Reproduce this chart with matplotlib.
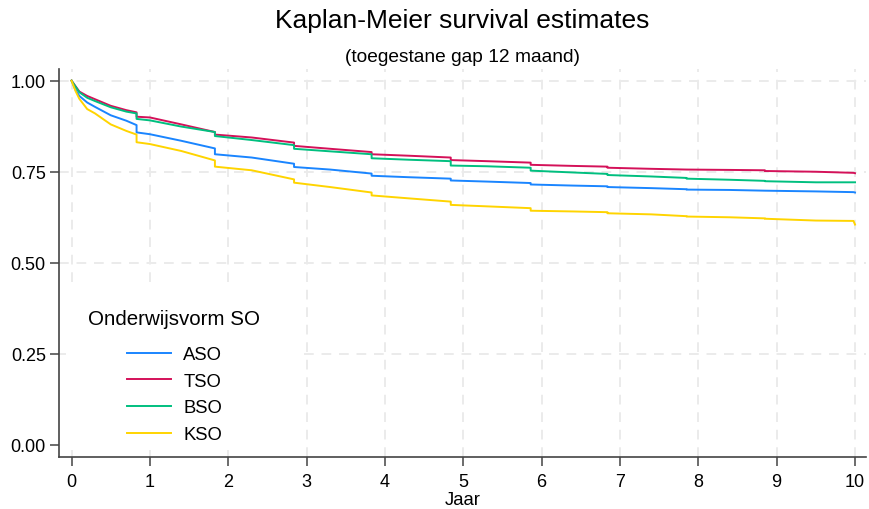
import matplotlib
matplotlib.use("Agg")
import matplotlib.pyplot as plt
from matplotlib.patches import Rectangle

plt.rcParams["font.family"] = ["Liberation Sans", "DejaVu Sans"]

# Kaplan-Meier estimates per education type (time in years)
years = [0, 0.05, 0.1, 0.2, 0.3, 0.5, 0.7, 0.83, 0.83, 1.0, 1.4, 1.83, 1.83,
         2.3, 2.84, 2.84, 3.3, 3.83, 3.83, 4.3, 4.84, 4.84, 5.3, 5.86, 5.86,
         6.4, 6.84, 6.84, 7.4, 7.85, 7.85, 8.4, 8.85, 8.85, 9.5, 9.98, 9.98, 10.0]

surv_aso = [1.0, 0.975, 0.958, 0.940, 0.928, 0.905, 0.890, 0.878, 0.858, 0.853,
            0.835, 0.814, 0.798, 0.789, 0.772, 0.763, 0.756, 0.745, 0.739, 0.735,
            0.731, 0.726, 0.723, 0.719, 0.715, 0.712, 0.710, 0.708, 0.705, 0.702,
            0.701, 0.700, 0.698, 0.698, 0.696, 0.694, 0.694, 0.693]

surv_tso = [1.0, 0.985, 0.970, 0.958, 0.949, 0.931, 0.919, 0.913, 0.901, 0.899,
            0.880, 0.859, 0.852, 0.844, 0.830, 0.821, 0.813, 0.804, 0.798, 0.794,
            0.789, 0.782, 0.779, 0.775, 0.769, 0.766, 0.764, 0.761, 0.758, 0.756,
            0.756, 0.755, 0.754, 0.752, 0.750, 0.747, 0.747, 0.746]

surv_bso = [1.0, 0.984, 0.968, 0.953, 0.944, 0.927, 0.915, 0.910, 0.895, 0.891,
            0.874, 0.859, 0.848, 0.837, 0.823, 0.813, 0.806, 0.798, 0.787, 0.783,
            0.779, 0.767, 0.765, 0.761, 0.753, 0.748, 0.744, 0.741, 0.737, 0.733,
            0.731, 0.728, 0.725, 0.724, 0.721, 0.721, 0.721, 0.721]

surv_kso = [1.0, 0.972, 0.950, 0.922, 0.910, 0.880, 0.862, 0.852, 0.831, 0.826,
            0.807, 0.781, 0.764, 0.754, 0.729, 0.720, 0.708, 0.693, 0.685, 0.677,
            0.668, 0.659, 0.655, 0.650, 0.643, 0.641, 0.639, 0.636, 0.633, 0.628,
            0.627, 0.625, 0.622, 0.621, 0.616, 0.615, 0.615, 0.605]

groups = ["ASO", "TSO", "BSO", "KSO"]
series = [surv_aso, surv_tso, surv_bso, surv_kso]
colors = ["#1a85ff", "#d41159", "#00bf7f", "#ffd400"]

x_ticks = list(range(0, 11))
y_ticks = [0.0, 0.25, 0.5, 0.75, 1.0]
y_ticklabels = ["0.00", "0.25", "0.50", "0.75", "1.00"]

W, H = 869, 510
fig = plt.figure(figsize=(W / 100, H / 100), dpi=100)
ax = fig.add_axes([59 / W, 1 - 458 / H, (866 - 59) / W, (458 - 70) / H])

ax.set_xlim(-0.16, 10.14)
ax.set_ylim(-0.033, 1.032)

# dashed light grid
grid_kw = dict(color="#ebebeb", lw=1.4, ls=(0, (5, 4)), zorder=0)
for xv in x_ticks:
    ax.axvline(xv, **grid_kw)
for yv in y_ticks[1:]:
    ax.axhline(yv, **grid_kw)

# white panel behind the legend
ax.add_patch(Rectangle((0.009, 0.018), 0.295, 0.415, transform=ax.transAxes,
                       facecolor="white", edgecolor="none", zorder=1))

handles = []
for name, s, c in zip(groups, series, colors):
    h, = ax.plot(years, s, color=c, lw=1.4, label=name, zorder=3)
    handles.append(h)

ax.set_xticks(x_ticks)
ax.set_yticks(y_ticks)
ax.set_yticklabels(y_ticklabels)
ax.tick_params(axis="both", labelsize=13, length=6.5, width=1.1, color="#444444",
               labelcolor="black")
ax.tick_params(axis="x", pad=5)
ax.tick_params(axis="y", pad=3)

for side in ["top", "right"]:
    ax.spines[side].set_visible(False)
for side in ["left", "bottom"]:
    ax.spines[side].set_color("#444444")
    ax.spines[side].set_linewidth(1.2)

# axis title close to the lower edge
fig.text(462.5 / W, 1 - 505.5 / H, "Jaar", ha="center", va="baseline",
         fontsize=13.3)

fig.text(462.5 / W, 1 - 21 / H, "Kaplan-Meier survival estimates",
         ha="center", va="center", fontsize=19)
fig.text(462.5 / W, 1 - 57.5 / H, "(toegestane gap 12 maand)",
         ha="center", va="center", fontsize=13.8)

ax.text(0.036, 0.357, "Onderwijsvorm SO", transform=ax.transAxes,
        ha="left", va="center", fontsize=14.8, zorder=4)
leg = ax.legend(handles=handles, loc="upper left", bbox_to_anchor=(0.084, 0.2856),
                frameon=False, fontsize=13.3, handlelength=2.4, handletextpad=0.65,
                labelspacing=0.52, borderpad=0, borderaxespad=0)
leg.set_zorder(4)

fig.savefig("out.png", dpi=100)
